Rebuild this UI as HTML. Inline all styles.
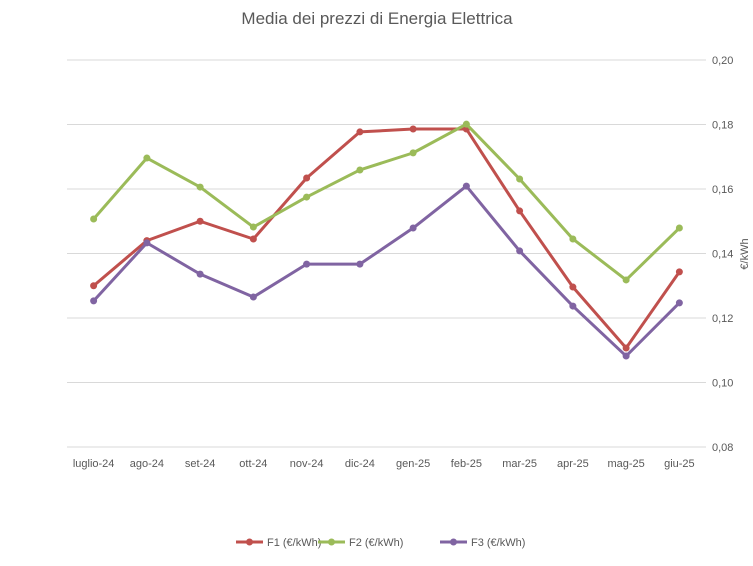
<!DOCTYPE html>
<html><head><meta charset="utf-8"><style>
body{margin:0;background:#fff;font-family:"Liberation Sans",sans-serif;}
svg text{font-family:"Liberation Sans",sans-serif;fill:#595959;}
</style></head><body>
<svg id="chart" width="753" height="561">
<text x="377" y="24" text-anchor="middle" font-size="17">Media dei prezzi di Energia Elettrica</text>
<g id="grid"></g><g id="xlabels"></g><g id="ylabels"></g><g id="series"></g>
<text transform="translate(748,254) rotate(-90)" text-anchor="middle" font-size="11">€/kWh</text>
<g id="legend"></g>
</svg>
<script>
const categories=["luglio-24","ago-24","set-24","ott-24","nov-24","dic-24","gen-25","feb-25","mar-25","apr-25","mag-25","giu-25"];
const f1=[0.130,0.144,0.150,0.1445,0.1634,0.1777,0.1786,0.1786,0.1532,0.1296,0.1107,0.1343];
const f2=[0.1507,0.1696,0.1606,0.1482,0.1575,0.1659,0.1712,0.1801,0.1631,0.1445,0.1318,0.1479];
const f3=[0.1253,0.1433,0.1336,0.1265,0.1367,0.1367,0.1479,0.1609,0.1408,0.1237,0.1082,0.1247];
const yTicks=[0.08,0.10,0.12,0.14,0.16,0.18,0.20];
const seriesNames=["F1 (€/kWh)","F2 (€/kWh)","F3 (€/kWh)"];
const colors=["#c0504d","#9bbb59","#8064a2"];
const NS="http://www.w3.org/2000/svg";
const x0=67,x1=706,yTop=60,yBot=447,ymin=0.08,ymax=0.20;
const xs=i=>x0+(x1-x0)/categories.length*(i+0.5);
const ys=v=>yBot-(v-ymin)/(ymax-ymin)*(yBot-yTop);
function mk(t,a,p){const e=document.createElementNS(NS,t);for(const k in a)e.setAttribute(k,a[k]);p.appendChild(e);return e;}
const g=document.getElementById('grid'),yl=document.getElementById('ylabels'),xl=document.getElementById('xlabels');
yTicks.forEach(v=>{const l=mk('line',{x1:x0,x2:x1,y1:ys(v),y2:ys(v),stroke:'#d9d9d9','stroke-width':1},g);


const t=mk('text',{x:712,y:ys(v)+4,'font-size':11},yl);t.textContent=v.toFixed(2).replace('.',',');

});
categories.forEach((c,i)=>{const t=mk('text',{x:xs(i),y:467,'font-size':11,'text-anchor':'middle'},xl);t.textContent=c;

});
const sg=document.getElementById('series');
[f1,f2,f3].forEach((d,s)=>{const grp=mk('g',{},sg);


mk('polyline',{points:d.map((v,i)=>xs(i)+','+ys(v)).join(' '),fill:'none',stroke:colors[s],'stroke-width':3,'stroke-linejoin':'round'},grp);
d.forEach((v,i)=>{const c=mk('circle',{cx:xs(i),cy:ys(v),r:3.5,fill:colors[s]},grp);

});});
const lg=document.getElementById('legend');const lx=[236,318,440];
seriesNames.forEach((n,s)=>{const grp=mk('g',{},lg);


mk('line',{x1:lx[s],x2:lx[s]+27,y1:542,y2:542,stroke:colors[s],'stroke-width':3},grp);
mk('circle',{cx:lx[s]+13.5,cy:542,r:3.5,fill:colors[s]},grp);
const t=mk('text',{x:lx[s]+31,y:546,'font-size':11},grp);t.textContent=n;});
</script>
</body></html>
